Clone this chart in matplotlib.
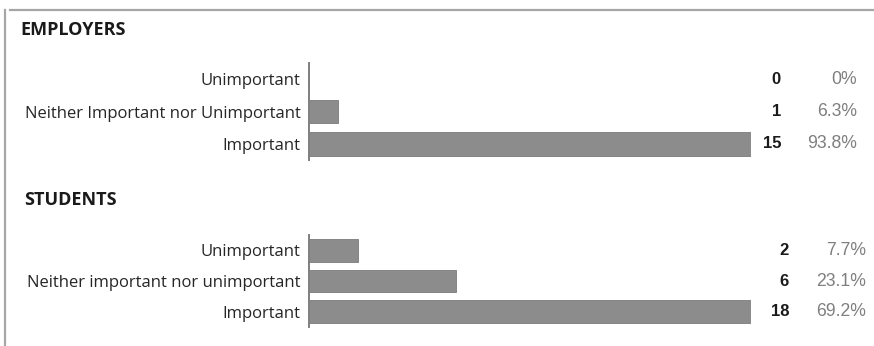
import matplotlib.pyplot as plt
from matplotlib.transforms import blended_transform_factory
from matplotlib.lines import Line2D

emp_labels = ["Unimportant", "Neither Important nor Unimportant", "Important"]
emp_counts = [0, 1, 15]
emp_pcts = ["0%", "6.3%", "93.8%"]

stu_labels = ["Unimportant", "Neither important nor unimportant", "Important"]
stu_counts = [2, 6, 18]
stu_pcts = ["7.7%", "23.1%", "69.2%"]

W, H = 874, 346
fig = plt.figure(figsize=(W / 100, H / 100), dpi=100)
fig.patch.set_facecolor("white")

lab_font = "Open Sans"
num_font = "Liberation Sans"

# frame lines at top and left
fig.add_artist(Line2D([10 / W, 1], [1 - 10 / H, 1 - 10 / H], color="#a6a6a6", lw=1.6))
fig.add_artist(Line2D([5 / W, 5 / W], [0, 1 - 10 / H], color="#a6a6a6", lw=1.6))


def panel(title, tx, ty, labels, counts, pcts, top, bottom, xcount, xpct):
    ax = fig.add_axes([309 / W, 1 - bottom / H, (751 - 309) / W, (bottom - top) / H])
    y = list(range(len(labels)))
    ax.barh(y, counts, height=0.74, color="#8c8c8c", edgecolor="#7a7a7a", lw=0.6)
    ax.set_xlim(0, max(counts))
    ax.set_ylim(len(labels) - 0.5, -0.5)
    ax.set_yticks(y)
    ax.set_yticklabels(labels, fontfamily=lab_font, fontsize=12, color="#262626")
    ax.tick_params(axis="y", length=0, pad=6)
    ax.set_xticks([])
    for s in ["top", "right", "bottom"]:
        ax.spines[s].set_visible(False)
    ax.spines["left"].set_color("#7f7f7f")
    ax.spines["left"].set_linewidth(1.4)
    ax.patch.set_alpha(0)
    tr = blended_transform_factory(fig.transFigure, ax.transData)
    for i in y:
        ax.text(xcount / W, i, str(counts[i]), transform=tr, ha="right", va="center",
                fontfamily=num_font, fontweight="bold", fontsize=12, color="#1a1a1a")
        ax.text(xpct / W, i, pcts[i], transform=tr, ha="right", va="center",
                fontfamily=num_font, fontsize=12.7, color="#7f7f7f")
    fig.text(tx / W, 1 - ty / H, title, fontfamily=lab_font, fontweight="bold",
             fontsize=13, color="#1a1a1a", va="center", ha="left")
    return ax


panel("EMPLOYERS", 20, 30, emp_labels, emp_counts, emp_pcts, 63, 160, 781, 857)
panel("STUDENTS", 24, 200, stu_labels, stu_counts, stu_pcts, 235, 327, 789, 866)

fig.savefig("out.png", dpi=100)
